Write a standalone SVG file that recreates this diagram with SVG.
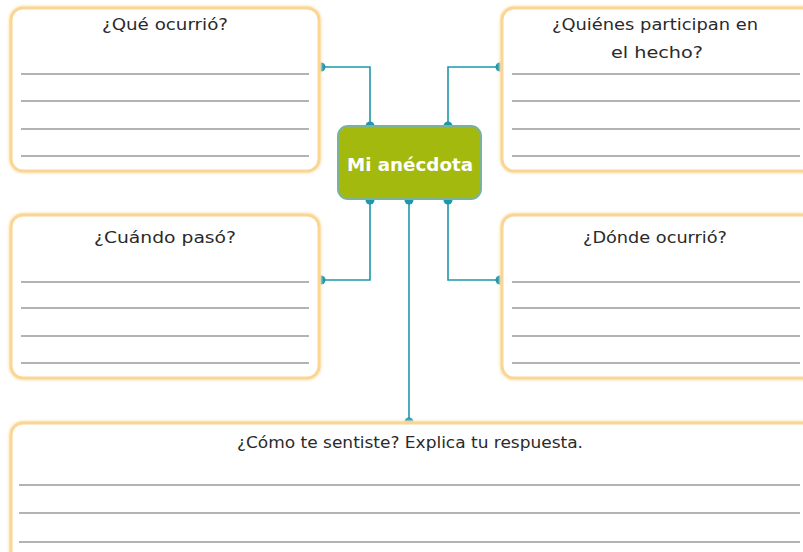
<svg xmlns="http://www.w3.org/2000/svg" width="803" height="552" viewBox="0 0 803 552">
<defs>
<filter id="glow" x="-5%" y="-5%" width="110%" height="110%">
<feGaussianBlur stdDeviation="1.2"/>
</filter>
</defs>
<style>
.box{fill:#ffffff;stroke:#fbd593;stroke-width:3}
.boxg{fill:none;stroke:#fde7be;stroke-width:5;filter:url(#glow)}
.ln{stroke:#9a9a9a;stroke-width:1.5}
.q{font-family:"DejaVu Sans","Liberation Sans",Arial,sans-serif;font-size:16px;fill:#2a2a2a;text-anchor:middle}
.conn{fill:none;stroke:#1e97ad;stroke-width:1.6}
.dot{fill:#1e97ad}
.center{fill:#a4b90e;stroke:#7bb39a;stroke-width:2}
.ct{font-family:"DejaVu Sans","Liberation Sans",Arial,sans-serif;font-size:18px;font-weight:bold;fill:#ffffff;text-anchor:middle}
</style>
<rect width="803" height="552" fill="#ffffff"/>
<g id="connectors">
<polyline class="conn" points="321,67 370,67 370,126"/>
<polyline class="conn" points="448,126 448,67 500,67"/>
<polyline class="conn" points="370,200 370,280 321,280"/>
<polyline class="conn" points="448,200 448,280 500,280"/>
<polyline class="conn" points="409,200 409,421"/>
<circle class="dot" cx="321" cy="67" r="4.5"/>
<circle class="dot" cx="500" cy="67" r="4.5"/>
<circle class="dot" cx="321" cy="280" r="4.5"/>
<circle class="dot" cx="500" cy="280" r="4.5"/>
<circle class="dot" cx="370" cy="126" r="4.5"/>
<circle class="dot" cx="448" cy="126" r="4.5"/>
<circle class="dot" cx="370" cy="200" r="4.5"/>
<circle class="dot" cx="409" cy="200" r="4.5"/>
<circle class="dot" cx="448" cy="200" r="4.5"/>
<circle class="dot" cx="409" cy="422" r="4.5"/>
</g>
<g id="que-ocurrio">
<rect class="boxg" x="11" y="8" width="308" height="163" rx="12"/>
<rect class="box" x="11" y="8" width="308" height="163" rx="12"/>
<text class="q" x="165" y="30" textLength="126" lengthAdjust="spacingAndGlyphs">¿Qué ocurrió?</text>
<line class="ln" x1="21" y1="74" x2="309" y2="74"/>
<line class="ln" x1="21" y1="101" x2="309" y2="101"/>
<line class="ln" x1="21" y1="129" x2="309" y2="129"/>
<line class="ln" x1="21" y1="156" x2="309" y2="156"/>
</g>
<g id="quienes">
<rect class="boxg" x="502" y="8" width="312" height="163" rx="12"/>
<rect class="box" x="502" y="8" width="312" height="163" rx="12"/>
<text class="q" x="655" y="30" textLength="206" lengthAdjust="spacingAndGlyphs">¿Quiénes participan en</text>
<text class="q" x="657" y="58" textLength="92" lengthAdjust="spacingAndGlyphs">el hecho?</text>
<line class="ln" x1="512" y1="74" x2="800" y2="74"/>
<line class="ln" x1="512" y1="101" x2="800" y2="101"/>
<line class="ln" x1="512" y1="129" x2="800" y2="129"/>
<line class="ln" x1="512" y1="156" x2="800" y2="156"/>
</g>
<g id="cuando">
<rect class="boxg" x="11" y="215" width="308" height="163" rx="12"/>
<rect class="box" x="11" y="215" width="308" height="163" rx="12"/>
<text class="q" x="165" y="243" textLength="142" lengthAdjust="spacingAndGlyphs">¿Cuándo pasó?</text>
<line class="ln" x1="21" y1="282" x2="309" y2="282"/>
<line class="ln" x1="21" y1="308" x2="309" y2="308"/>
<line class="ln" x1="21" y1="336" x2="309" y2="336"/>
<line class="ln" x1="21" y1="363" x2="309" y2="363"/>
</g>
<g id="donde">
<rect class="boxg" x="502" y="215" width="312" height="163" rx="12"/>
<rect class="box" x="502" y="215" width="312" height="163" rx="12"/>
<text class="q" x="655" y="243" textLength="144" lengthAdjust="spacingAndGlyphs">¿Dónde ocurrió?</text>
<line class="ln" x1="512" y1="282" x2="800" y2="282"/>
<line class="ln" x1="512" y1="308" x2="800" y2="308"/>
<line class="ln" x1="512" y1="336" x2="800" y2="336"/>
<line class="ln" x1="512" y1="363" x2="800" y2="363"/>
</g>
<g id="como">
<rect class="boxg" x="11" y="423" width="803" height="140" rx="12"/>
<rect class="box" x="11" y="423" width="803" height="140" rx="12"/>
<text class="q" x="410" y="448" textLength="346" lengthAdjust="spacingAndGlyphs">¿Cómo te sentiste? Explica tu respuesta.</text>
<line class="ln" x1="19" y1="485" x2="800" y2="485"/>
<line class="ln" x1="19" y1="513" x2="800" y2="513"/>
<line class="ln" x1="19" y1="542" x2="800" y2="542"/>
</g>
<g id="mi-anecdota">
<rect class="center" x="338" y="126" width="143" height="73" rx="10"/>
<text class="ct" x="410" y="171" textLength="126" lengthAdjust="spacingAndGlyphs">Mi anécdota</text>
</g>
</svg>
